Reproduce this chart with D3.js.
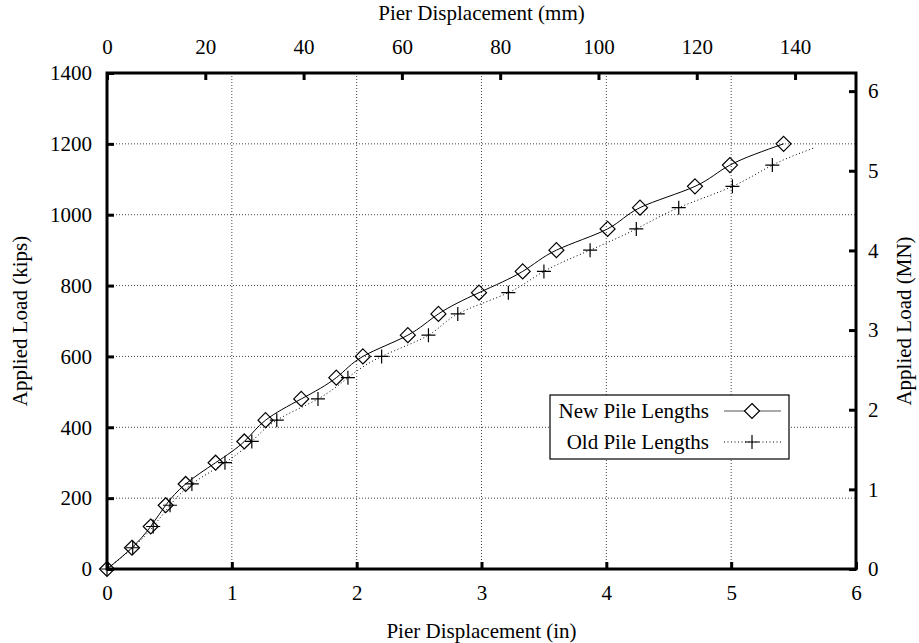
<!DOCTYPE html>
<html lang="en">
<head>
  <meta charset="UTF-8">
  <title>Applied Load vs Pier Displacement</title>
  <script src="https://d3js.org/d3.v7.min.js"></script>
  <style>
    body { margin: 0; background: #fff; }
    text { font-family: "Liberation Serif", "Times New Roman", serif; font-size: 21px; fill: #000; }
  </style>
</head>
<body>
<div class="main"></div>
<script>
  // data (displacement in inches, load in kips)
  const newDisp = [0, 0.20, 0.35, 0.47, 0.63, 0.87, 1.10, 1.27, 1.556, 1.837, 2.05, 2.41, 2.655, 2.98, 3.33, 3.60, 4.01, 4.27, 4.71, 4.99, 5.42];
  const newLoad = [0, 60, 120, 180, 240, 300, 360, 420, 480, 540, 600, 660, 720, 780, 840, 900, 960, 1020, 1080, 1140, 1200];
  const oldDisp = [0, 0.206, 0.37, 0.505, 0.68, 0.945, 1.16, 1.36, 1.69, 1.93, 2.20, 2.575, 2.81, 3.215, 3.50, 3.87, 4.24, 4.58, 5.01, 5.33, 5.66];
  const oldLoad = [0, 60, 120, 180, 240, 300, 360, 420, 480, 540, 600, 660, 720, 780, 840, 900, 960, 1020, 1080, 1140, 1188];
  // last old point carries the line only, no marker
  const oldMarked = oldDisp.length - 1;

  const xTicksIn = [0, 1, 2, 3, 4, 5, 6];
  const xTicksMm = [0, 20, 40, 60, 80, 100, 120, 140];
  const yTicksKips = [0, 200, 400, 600, 800, 1000, 1200, 1400];
  const yTicksMN = [0, 1, 2, 3, 4, 5, 6];
  const seriesNames = ["New Pile Lengths", "Old Pile Lengths"];

  const width = 919, height = 643;
  const pLeft = 107, pRight = 856, pTop = 73, pBottom = 569;

  const svg = d3.select(".main").append("svg").attr("width", width).attr("height", height);

  const x = d3.scaleLinear().domain([0, 6]).range([pLeft, pRight]);
  const xmm = d3.scaleLinear().domain([0, 6 * 25.4]).range([pLeft, pRight]);
  const y = d3.scaleLinear().domain([0, 1400]).range([pBottom, pTop]);
  const ymn = d3.scaleLinear().domain([0, 1400 / 224.809]).range([pBottom, pTop]);

  // dotted grid
  const grid = svg.append("g").attr("stroke", "#444").attr("stroke-width", 1).attr("stroke-dasharray", "1,2");
  grid.selectAll(".gx").data(xTicksIn.slice(1, -1)).enter().append("line")
    .attr("x1", d => x(d)).attr("x2", d => x(d)).attr("y1", pTop).attr("y2", pBottom);
  grid.selectAll(".gy").data(yTicksKips.slice(1, -1)).enter().append("line")
    .attr("x1", pLeft).attr("x2", pRight).attr("y1", d => y(d)).attr("y2", d => y(d));

  // axes with inward ticks
  function styleAxis(g) {
    g.select(".domain").remove();
    g.selectAll(".tick line").attr("stroke", "#000").attr("stroke-width", 3);
    g.selectAll(".tick text").style("font-size", "21px").attr("fill", "#000");
  }
  svg.append("g").attr("transform", `translate(0,${pBottom})`)
    .call(d3.axisBottom(x).tickValues(xTicksIn).tickSize(-7).tickPadding(16).tickFormat(d3.format("d"))).call(styleAxis);
  svg.append("g").attr("transform", `translate(0,${pTop})`)
    .call(d3.axisTop(xmm).tickValues(xTicksMm).tickSize(-7).tickPadding(19).tickFormat(d3.format("d"))).call(styleAxis);
  svg.append("g").attr("transform", `translate(${pLeft},0)`)
    .call(d3.axisLeft(y).tickValues(yTicksKips).tickSize(-7).tickPadding(15).tickFormat(d3.format("d"))).call(styleAxis);
  svg.append("g").attr("transform", `translate(${pRight},0)`)
    .call(d3.axisRight(ymn).tickValues(yTicksMN).tickSize(-7).tickPadding(12).tickFormat(d3.format("d"))).call(styleAxis);

  // frame
  svg.append("rect").attr("x", pLeft).attr("y", pTop).attr("width", pRight - pLeft).attr("height", pBottom - pTop)
    .attr("fill", "none").attr("stroke", "#000").attr("stroke-width", 3);

  // axis titles
  svg.append("text").attr("x", (pLeft + pRight) / 2).attr("y", 638).attr("text-anchor", "middle").text("Pier Displacement (in)");
  svg.append("text").attr("x", (pLeft + pRight) / 2).attr("y", 20).attr("text-anchor", "middle").text("Pier Displacement (mm)");
  svg.append("text").attr("transform", `translate(27,${(pTop + pBottom) / 2}) rotate(-90)`).attr("text-anchor", "middle").text("Applied Load (kips)");
  svg.append("text").attr("transform", `translate(911,${(pTop + pBottom) / 2}) rotate(-90)`).attr("text-anchor", "middle").text("Applied Load (MN)");

  // series
  const newPts = newDisp.map((d, i) => [d, newLoad[i]]);
  const oldPts = oldDisp.map((d, i) => [d, oldLoad[i]]);
  const line = d3.line().x(d => x(d[0])).y(d => y(d[1])).curve(d3.curveNatural);

  svg.append("path").attr("d", line(oldPts)).attr("fill", "none").attr("stroke", "#000")
    .attr("stroke-width", 1).attr("stroke-dasharray", "1,2.5");
  svg.append("path").attr("d", line(newPts)).attr("fill", "none").attr("stroke", "#000").attr("stroke-width", 1);

  const diamond = "M0,-7.5L7.5,0L0,7.5L-7.5,0Z";
  const plus = "M-7,0H7M0,-7V7";

  svg.selectAll(".oldpt").data(oldPts.slice(0, oldMarked)).enter().append("path")
    .attr("transform", d => `translate(${x(d[0])},${y(d[1])})`).attr("d", plus)
    .attr("stroke", "#000").attr("stroke-width", 1.2).attr("fill", "none");
  svg.selectAll(".newpt").data(newPts).enter().append("path")
    .attr("transform", d => `translate(${x(d[0])},${y(d[1])})`).attr("d", diamond)
    .attr("stroke", "#000").attr("stroke-width", 1.2).attr("fill", "none");

  // legend
  const lg = svg.append("g");
  lg.append("rect").attr("x", 550).attr("y", 395).attr("width", 239).attr("height", 64)
    .attr("fill", "#fff").attr("stroke", "#000").attr("stroke-width", 1.2);
  const rows = [411, 442];
  seriesNames.forEach((name, i) => {
    lg.append("text").attr("x", 709).attr("y", rows[i] + 7).attr("text-anchor", "end").text(name);
    lg.append("line").attr("x1", 724).attr("x2", 781).attr("y1", rows[i]).attr("y2", rows[i])
      .attr("stroke", i === 0 ? "#555" : "#000").attr("stroke-width", 1)
      .attr("stroke-dasharray", i === 0 ? null : "1,2.5");
    lg.append("path").attr("transform", `translate(752,${rows[i]})`).attr("d", i === 0 ? diamond : plus)
      .attr("stroke", "#000").attr("stroke-width", 1.2).attr("fill", i === 0 ? "#fff" : "none");
  });
</script>
</body>
</html>
